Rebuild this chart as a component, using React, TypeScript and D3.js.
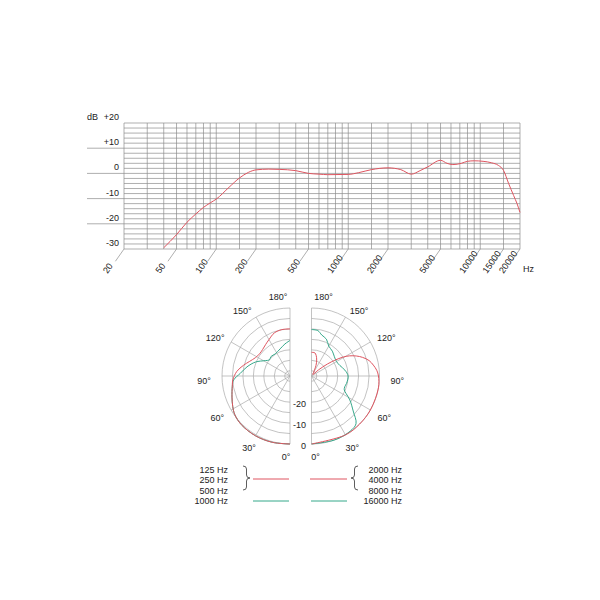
import React from 'react';
import * as d3 from 'd3';

// ---------- Frequency response data ----------
const freqTickLabels = [20, 50, 100, 200, 500, 1000, 2000, 5000, 10000, 15000, 20000];
const freqGridLines = [20, 30, 40, 50, 60, 70, 80, 90, 100, 150, 200, 300, 400, 500, 600, 700, 800, 900, 1000, 1500, 2000, 3000, 4000, 5000, 6000, 7000, 8000, 9000, 10000, 15000, 20000];
const dbTickLabels = [20, 10, 0, -10, -20, -30];
const responseHz = [40, 50, 60, 70, 80, 90, 100, 125, 150, 175, 200, 250, 300, 400, 500, 600, 700, 1000, 1200, 1500, 2000, 2500, 3000, 3500, 4000, 5000, 5600, 6200, 7200, 8000, 9000, 10500, 12200, 13700, 15000, 16400, 17900, 19000, 20000];
const responseDb = [-29.5, -24.3, -19.4, -16.1, -13.5, -11.7, -10.2, -5.5, -1.8, 0.4, 1.4, 1.7, 1.6, 1.1, 0, -0.3, -0.5, -0.4, 0.3, 1.5, 2.2, 1.5, -0.3, 1.1, 2.6, 5.2, 4.0, 3.5, 4.0, 4.8, 5.0, 4.8, 4.2, 3.2, 1.2, -4.0, -8.8, -12, -15.5];

// ---------- Polar data (angle in degrees from 0° front, level in dB) ----------
const ringLevels = [0, -5, -10, -15, -20, -25, -30];
const ringLabels = [0, -10, -20];
const spokeAngles = [0, 30, 60, 90, 120, 150, 180];
const angleLabels = [30, 60, 90, 120, 150];
const angleLabelPos = [29.5, 60, 87, 117, 144];
const angleLabelRadius = [83, 84, 86, 84, 81];

const lowRedAngles = [0, 15, 30, 45, 55, 62, 70, 80, 86, 95, 103, 110, 118, 126, 134, 142, 150, 160, 170, 180];
const lowRedDb = [0, 0.3, 0.5, 0.4, -0.3, -1.5, -3, -4.5, -5.1, -7, -9.7, -12, -13.8, -14.5, -14.3, -13.5, -12.4, -10.6, -10, -10];
const lowGreenAngles = [0, 15, 30, 45, 55, 62, 70, 80, 86, 93, 102, 112, 122, 128, 136, 146, 160, 171, 180];
const lowGreenDb = [0, 0.3, 0.5, 0.4, -0.3, -1.5, -3, -4.5, -5.5, -8.7, -11.5, -14.7, -18.6, -20, -19.5, -19.8, -18.7, -17, -15.5];

const highRedAngles = [0, 30, 45, 60, 80, 90, 95, 100, 105, 110, 114, 118, 121, 124, 127, 131, 140, 150, 157, 162, 167, 172, 180];
const highRedDb = [0, 0, 0, 0, 0, -0.5, -1.2, -2.5, -4, -6.5, -9, -12, -15, -19, -23, -28, -31.5, -30.5, -27, -24.5, -22.5, -21.3, -21.2];
const highGreenAngles = [0, 20, 35, 43, 50, 58, 63, 67, 72, 78, 90, 100, 110, 120, 130, 140, 150, 158, 166, 172, 180];
const highGreenDb = [0, 0, -0.3, -1.3, -6.5, -10.9, -13.9, -15.5, -15.8, -15.4, -15, -16.3, -18, -18.7, -18.2, -17, -16, -13.5, -12.3, -10.6, -10.3];

const legendLeft = ['125 Hz', '250 Hz', '500 Hz', '1000 Hz'];
const legendRight = ['2000 Hz', '4000 Hz', '8000 Hz', '16000 Hz'];

const RED = '#df5560';
const GREEN = '#35a88a';
const FONT = '"Liberation Sans", Arial, Helvetica, sans-serif';

export default function App() {
  // frequency response chart
  const x = d3.scaleLog().domain([20, 20000]).range([124, 520]);
  const y = d3.scaleLinear().domain([-30, 20]).range([249, 123]);
  const minorDb = d3.range(-30, 21, 2);
  const respData = responseHz.map((f, i) => ({ f, db: responseDb[i] }));
  const respLine = d3.line<{ f: number; db: number }>().x(d => x(d.f)).y(d => y(d.db)).curve(d3.curveMonotoneX);

  // polar
  const R = 68;
  const rScale = d3.scaleLinear().domain([-32.5, 0]).range([0, R]);
  const cyP = 376;
  const cxL = 290;
  const cxR = 311.5;
  const rad = (a: number) => (a * Math.PI) / 180;

  const makeRadial = (side: 'L' | 'R') =>
    d3
      .lineRadial<{ a: number; db: number }>()
      .angle(d => (side === 'L' ? Math.PI + rad(d.a) : Math.PI - rad(d.a)))
      .radius(d => Math.max(0, rScale(d.db)))
      .curve(d3.curveCatmullRom.alpha(0.5));

  const pairs = (angles: number[], dbs: number[]) => angles.map((a, i) => ({ a, db: dbs[i] }));

  const semi = (r: number, side: 'L' | 'R') => {
    const p = d3.path();
    p.moveTo(0, -r);
    p.arc(0, 0, r, -Math.PI / 2, Math.PI / 2, side === 'L');
    return p.toString();
  };

  const polarHalf = (side: 'L' | 'R', cx: number, curves: { angles: number[]; dbs: number[]; color: string }[]) => {
    const sgn = side === 'L' ? -1 : 1;
    const radial = makeRadial(side);
    return (
      <g transform={`translate(${cx},${cyP})`}>
        {ringLevels.map(l => (
          <path key={l} d={semi(rScale(l), side)} fill="none" stroke="#a9a9a9" strokeWidth={0.7} />
        ))}
        {spokeAngles.map(a => (
          <line
            key={a}
            x1={0}
            y1={0}
            x2={sgn * R * Math.sin(rad(a))}
            y2={R * Math.cos(rad(a))}
            stroke="#a9a9a9"
            strokeWidth={0.7}
          />
        ))}
        {curves.map((c, i) => (
          <path key={i} d={radial(pairs(c.angles, c.dbs)) || ''} fill="none" stroke={c.color} strokeWidth={1} />
        ))}
        {angleLabels.map((a, i) => (
          <text
            key={a}
            x={sgn * angleLabelRadius[i] * Math.sin(rad(angleLabelPos[i]))}
            y={angleLabelRadius[i] * Math.cos(rad(angleLabelPos[i]))}
            dy="0.35em"
            textAnchor="middle"
            fontSize={9}
            fontFamily={FONT}
            fill="#222"
          >
            {a}°
          </text>
        ))}
        <text x={sgn * 12} y={-79} dy="0.35em" textAnchor="middle" fontSize={9} fontFamily={FONT} fill="#222">
          180°
        </text>
        <text x={sgn * 4} y={81} dy="0.35em" textAnchor="middle" fontSize={9} fontFamily={FONT} fill="#222">
          0°
        </text>
      </g>
    );
  };

  const braceRight = (x0: number, y0: number, y1: number, w: number) => {
    const m = (y0 + y1) / 2;
    const h = w / 2;
    return `M${x0},${y0} Q${x0 + h},${y0} ${x0 + h},${y0 + 3} L${x0 + h},${m - 3} Q${x0 + h},${m} ${x0 + w},${m} Q${x0 + h},${m} ${x0 + h},${m + 3} L${x0 + h},${y1 - 3} Q${x0 + h},${y1} ${x0},${y1}`;
  };

  const tickAng = rad(55);

  return (
    <svg
      width={600}
      height={600}
      style={{ position: 'absolute', left: 0, top: 0, background: '#fff' }}
      fontFamily={FONT}
    >
      <rect width={600} height={600} fill="#fff" />
      {/* frequency chart grid */}
      {minorDb.map(d => (
        <line
          key={'h' + d}
          x1={d % 10 === 0 && d !== 20 && d !== -30 ? 87 : 124}
          x2={520}
          y1={y(d)}
          y2={y(d)}
          stroke="#8c8c8c"
          strokeWidth={0.7}
        />
      ))}
      {freqGridLines.map(f => (
        <line key={'v' + f} x1={x(f)} x2={x(f)} y1={y(20)} y2={y(-30)} stroke="#8c8c8c" strokeWidth={0.7} />
      ))}
      {dbTickLabels.map(d => (
        <text key={'dl' + d} x={119} y={y(d) - 3} textAnchor="end" fontSize={9} fill="#222">
          {d > 0 ? '+' + d : d}
        </text>
      ))}
      <text x={87} y={y(20) - 3} fontSize={9} fill="#222">
        dB
      </text>
      {freqTickLabels.map(f => {
        const xf = x(f);
        return (
          <g key={'ft' + f}>
            <line
              x1={xf}
              y1={249}
              x2={xf - 15 * Math.cos(tickAng)}
              y2={249 + 15 * Math.sin(tickAng)}
              stroke="#8c8c8c"
              strokeWidth={0.7}
            />
            <text transform={`translate(${xf - 16.5},${274}) rotate(-55)`} fontSize={9} fill="#222">
              {f}
            </text>
          </g>
        );
      })}
      <text x={523} y={272} fontSize={9} fill="#222">
        Hz
      </text>
      <path d={respLine(respData) || ''} fill="none" stroke={RED} strokeWidth={1} />

      {/* polar plots */}
      {polarHalf('L', cxL, [
        { angles: lowGreenAngles, dbs: lowGreenDb, color: GREEN },
        { angles: lowRedAngles, dbs: lowRedDb, color: RED },
      ])}
      {polarHalf('R', cxR, [
        { angles: highGreenAngles, dbs: highGreenDb, color: GREEN },
        { angles: highRedAngles, dbs: highRedDb, color: RED },
      ])}
      {ringLabels.map(l => (
        <text key={'rl' + l} x={306} y={cyP + rScale(l) + 2} dy="0.35em" textAnchor="end" fontSize={9} fill="#222">
          {l}
        </text>
      ))}

      {/* legend */}
      {legendLeft.map((t, i) => (
        <text key={'ll' + i} x={228} y={472.5 + i * 10.5} textAnchor="end" fontSize={9} fill="#222">
          {t}
        </text>
      ))}
      {legendRight.map((t, i) => (
        <text key={'lr' + i} x={402} y={472.5 + i * 10.5} textAnchor="end" fontSize={9} fill="#222">
          {t}
        </text>
      ))}
      <path d={braceRight(243, 466, 490, 7)} fill="none" stroke="#333" strokeWidth={0.8} />
      <path d={braceRight(358, 466, 490, -7)} fill="none" stroke="#333" strokeWidth={0.8} />
      <line x1={253} x2={289} y1={479} y2={479} stroke={RED} strokeWidth={1} />
      <line x1={253} x2={289} y1={501} y2={501} stroke={GREEN} strokeWidth={1} />
      <line x1={310} x2={347} y1={479} y2={479} stroke={RED} strokeWidth={1} />
      <line x1={311} x2={347} y1={501} y2={501} stroke={GREEN} strokeWidth={1} />
    </svg>
  );
}
